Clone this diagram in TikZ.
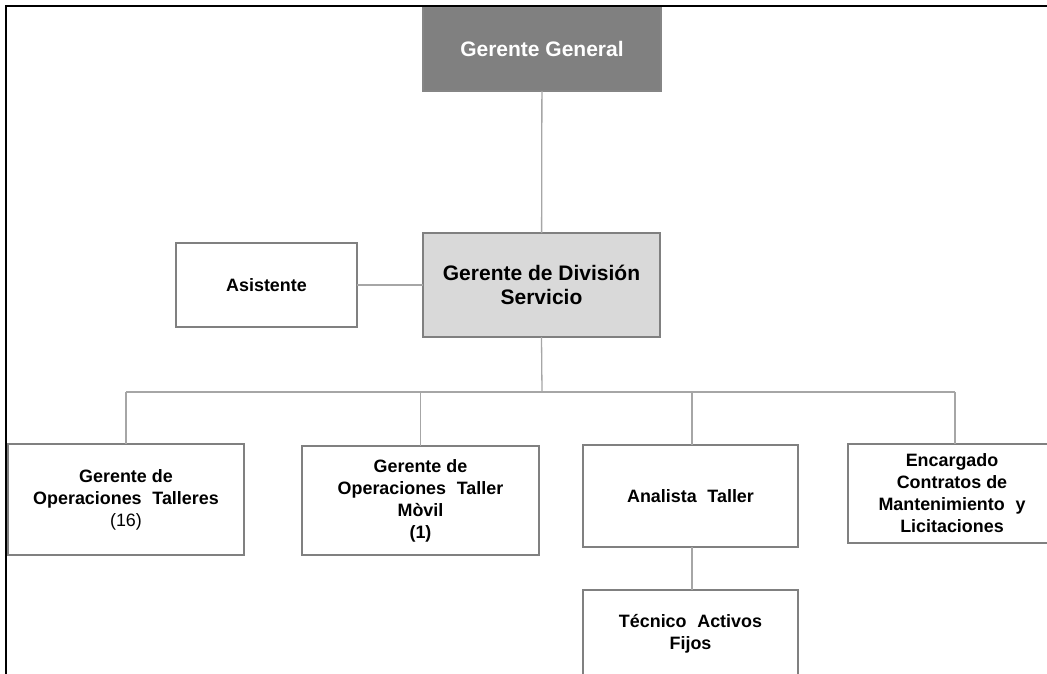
\documentclass[tikz,border=0pt]{standalone}
\usepackage{fontspec}
\setmainfont{Liberation Sans}
\newcommand{\gapsp}{\hspace{0.6em}}
\begin{document}
\begin{tikzpicture}[x=1pt,y=-1pt,
  box/.style={draw=black!50, line width=1.8pt, fill=white, inner sep=0pt, outer sep=0pt,
    align=center, text=black, font=\fontsize{17.9}{22}\selectfont\bfseries},
  topbox/.style={box, fill=black!50, draw=black!48, text=white,
    font=\fontsize{21}{23}\selectfont\bfseries},
  divbox/.style={box, fill=black!15, line width=2.2pt,
    font=\fontsize{21}{24}\selectfont\bfseries},
  link/.style={draw=black!35, line width=1.3pt}]
\useasboundingbox (0,0) rectangle (1047,673);
\clip (0,0) rectangle (1047,673);

% management levels
\node[topbox, minimum width=238, minimum height=84] (gg) at (542,49) {Gerente General};
\node[divbox, minimum width=237, minimum height=104] (ds) at (541.5,285)
  {Gerente de División\\Servicio};
\node[box, minimum width=181, minimum height=84] (asis) at (266.5,285) {Asistente};

% departments
\node[box, minimum width=236, minimum height=111] (talleres) at (126,499.5)
  {Gerente de\\Operaciones\gapsp Talleres\\{\mdseries (16)}};
\node[box, minimum width=237, minimum height=109] (movil) at (420.5,500.5)
  {Gerente de\\Operaciones\gapsp Taller\\Mòvil\\(1)};
\node[box, minimum width=215, minimum height=102] (analista) at (690.5,496)
  {Analista\gapsp Taller};
\node[box, minimum width=208, minimum height=99] (encargado) at (952,493.5)
  {Encargado\\Contratos de\\Mantenimiento\gapsp y\\Licitaciones};
% this box runs past the lower edge of the page
\node[box, minimum width=215, minimum height=88] (tecnico) at (690.5,634)
  {Técnico\gapsp Activos\\Fijos};

% connectors
\coordinate (bus) at (542,392);
\draw[link] (gg) -- (ds);
\draw[link] (asis) -- (ds);
\draw[link] (ds.south) -- (bus);
\draw[link] (talleres.north |- bus) -- ([xshift=3]encargado.north |- bus);
\draw[link] (talleres.north |- bus) -- (talleres.north);
\draw[link] (movil.north |- bus) -- (movil.north);
\draw[link] ([xshift=1.5]analista.north |- bus) -- ([xshift=1.5]analista.north);
\draw[link] ([xshift=3]encargado.north |- bus) -- ([xshift=3]encargado.north);
\draw[link] ([xshift=1.5]analista.south) -- ([xshift=1.5]tecnico.north);

% page frame
\draw[line width=2.4pt, black] (5.8,675) -- (5.8,5.8) -- (1049,5.8);
\end{tikzpicture}
\end{document}
